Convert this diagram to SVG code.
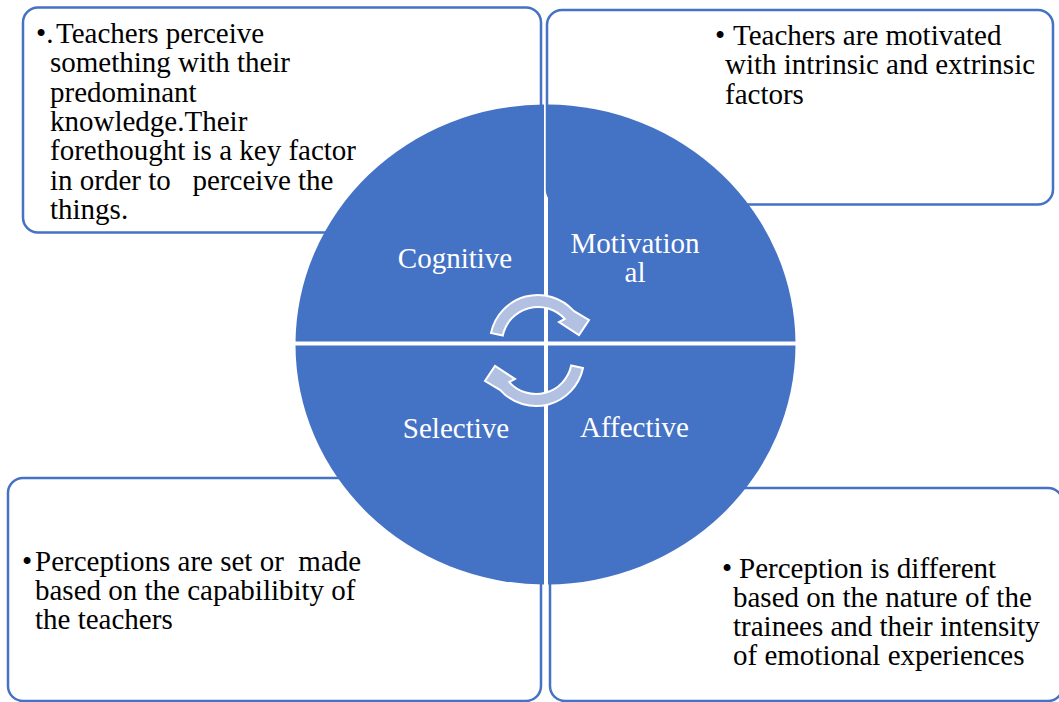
<svg xmlns="http://www.w3.org/2000/svg" width="1059" height="702" viewBox="0 0 1059 702">
<style>
.box{fill:#fff;stroke:#4472C4;stroke-width:2.5}
.slice{fill:#4472C4}
.body{font-family:"Liberation Serif","Times New Roman",serif;font-size:29px;fill:#000;white-space:pre}
.lbl{font-family:"Liberation Serif","Times New Roman",serif;font-size:29px;fill:#fff;text-anchor:middle}
.arrow{fill:#B2C0E1;stroke:#fff;stroke-width:2}
</style>
<defs>
<ellipse id="pie" cx="545.5" cy="344.5" rx="250" ry="240"/>
<clipPath id="cTL"><rect x="0" y="0" width="544" height="341.5"/></clipPath>
<clipPath id="cTR"><rect x="548" y="0" width="511" height="341.5"/></clipPath>
<clipPath id="cBL"><rect x="0" y="345.5" width="544" height="357"/></clipPath>
<clipPath id="cBR"><rect x="548" y="345.5" width="511" height="357"/></clipPath>
<path id="arr" d="M491 333 A48 48 0 0 1 573.7 310.9 L589 320 L579 335 L559 322 L564.8 318.9 A36 36 0 0 0 502.8 335.5 Z"/>
</defs>
<rect width="1059" height="702" fill="#fff"/>
<g id="box-cognitive">
<rect class="box" x="23" y="7.5" width="518" height="225" rx="15"/>
<text class="body"><tspan x="36" y="43">•.</tspan><tspan x="56" y="43">Teachers perceive</tspan><tspan x="50" y="72.3">something with their</tspan><tspan x="50" y="101.6">predominant</tspan><tspan x="50" y="131">knowledge.Their</tspan><tspan x="50" y="160.2">forethought is a key factor</tspan><tspan x="50" y="189.5">in order to   perceive the</tspan><tspan x="50" y="218.8">things.</tspan></text>
</g>
<g id="box-motivational">
<rect class="box" x="547" y="10" width="506" height="194.5" rx="15"/>
<text class="body"><tspan x="715" y="45">•</tspan><tspan x="733" y="45">Teachers are motivated</tspan><tspan x="725" y="74.3">with intrinsic and extrinsic</tspan><tspan x="725" y="103.6">factors</tspan></text>
</g>
<g id="box-selective">
<rect class="box" x="8" y="478" width="533" height="223" rx="15"/>
<text class="body"><tspan x="22" y="571">•</tspan><tspan x="35" y="571">Perceptions are set or  made</tspan><tspan x="35" y="600">based on the capabilibity of</tspan><tspan x="35" y="629">the teachers</tspan></text>
</g>
<g id="box-affective">
<rect class="box" x="550" y="488" width="513" height="213" rx="15"/>
<text class="body"><tspan x="722" y="578">•</tspan><tspan x="739" y="578">Perception is different</tspan><tspan x="733" y="607">based on the nature of the</tspan><tspan x="733" y="636">trainees and their intensity</tspan><tspan x="733" y="665">of emotional experiences</tspan></text>
</g>
<g id="seg-cognitive">
<use href="#pie" class="slice" clip-path="url(#cTL)"/>
<text class="lbl" x="455" y="268">Cognitive</text>
</g>
<g id="seg-motivational">
<use href="#pie" class="slice" clip-path="url(#cTR)"/>
<text class="lbl" x="635" y="253">Motivation</text>
<text class="lbl" x="635" y="282">al</text>
</g>
<g id="seg-selective">
<use href="#pie" class="slice" clip-path="url(#cBL)"/>
<text class="lbl" x="456" y="438">Selective</text>
</g>
<g id="seg-affective">
<use href="#pie" class="slice" clip-path="url(#cBR)"/>
<text class="lbl" x="634.5" y="437">Affective</text>
</g>
<g id="connectors">
<use href="#arr" class="arrow"/>
<use href="#arr" class="arrow" transform="rotate(180 537 350.5)"/>
</g>
</svg>
